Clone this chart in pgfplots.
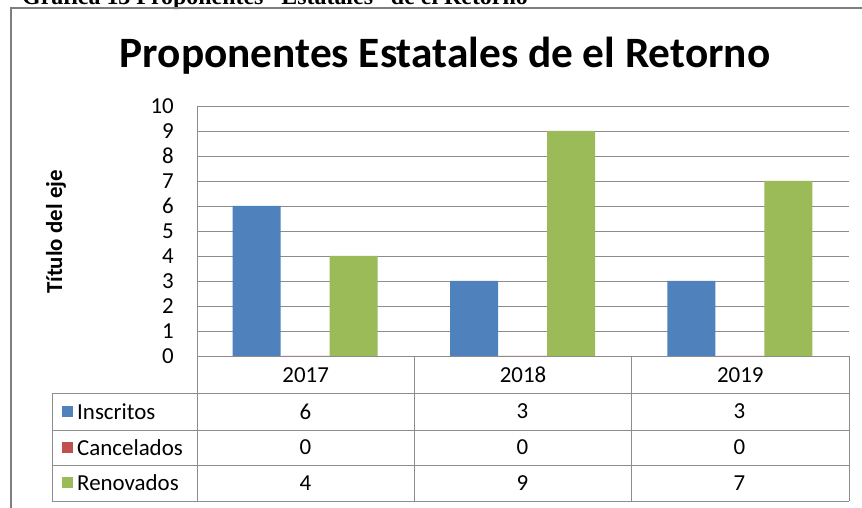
\documentclass[border=0pt]{standalone}
\usepackage{pgfplots}
\pgfplotsset{compat=1.18}
\usepackage{fontspec}
\setmainfont{Carlito}
\newfontfamily\tnr{Liberation Serif}
\definecolor{cblue}{HTML}{4F81BD}
\definecolor{cred}{HTML}{C0504D}
\definecolor{cgreen}{HTML}{9BBB59}
\definecolor{gridc}{HTML}{8C8C8C}
\definecolor{framec}{HTML}{7F7F7F}
\begin{document}
\begin{tikzpicture}[x=1bp,y=1bp]
\useasboundingbox (0,0) rectangle (862,508);
\fill[white] (0,0) rectangle (862,508);
\node[anchor=base west, inner sep=0, font=\tnr\bfseries\fontsize{24}{28}\selectfont] at (22,503.5) {Gráfica 13 Proponentes “Estatales” de el Retorno};
\draw[framec, line width=2bp] (11,-5) -- (11,500) -- (870,500);
\node[anchor=base, inner sep=0, font=\bfseries\fontsize{43.5}{50}\selectfont] at (445,440) {Proponentes Estatales de el Retorno};
\node[rotate=90, inner sep=0, font=\bfseries\fontsize{23}{27}\selectfont] at (56,276) {Título del eje};
\begin{axis}[
  at={(197bp,152bp)}, anchor=south west,
  width=652bp, height=250bp, scale only axis,
  xmin=-0.5, xmax=2.5, ymin=0, ymax=10,
  ybar, bar width=48bp,
  ytick={0,1,...,10},
  xtick={0,1,2}, xticklabels={2017,2018,2019},
  ymajorgrids, grid style={gridc, line width=0.8bp},
  major tick length=0pt,
  axis line style={draw=none},
  tick label style={font=\fontsize{23}{27}\selectfont},
  /pgf/number format/assume math mode=true,
  yticklabel style={anchor=east, inner sep=0pt, xshift=-23bp},
  xticklabel style={anchor=center, inner sep=0pt, yshift=-19bp},
]
\addplot[fill=cblue, draw=none, bar shift=-49bp] coordinates {(0,6) (1,3) (2,3)};
\addplot[fill=cred, draw=none, bar shift=0bp] coordinates {(0,0) (1,0) (2,0)};
\addplot[fill=cgreen, draw=none, bar shift=48bp] coordinates {(0,4) (1,9) (2,7)};
\end{axis}
\begin{scope}[gridc, line width=0.8bp]
\draw (197,402) -- (197,7);
\draw (414,152) -- (414,7);
\draw (631,152) -- (631,7);
\draw (849,152) -- (849,7);
\draw (52,115) -- (52,7);
\draw (52,115) -- (849,115);
\draw (52,78) -- (849,78);
\draw (52,43) -- (849,43);
\draw (52,7) -- (849,7);
\end{scope}
\fill[cblue] (62,91) rectangle (73,102);
\fill[cred] (62,55) rectangle (73,66);
\fill[cgreen] (62,19.5) rectangle (73,30.5);
\begin{scope}[every node/.style={inner sep=0, font=\fontsize{23}{27}\selectfont}]
\node[anchor=west] at (77,96.5) {Inscritos};
\node[anchor=west] at (77,60.5) {Cancelados};
\node[anchor=west] at (77,25) {Renovados};
\node at (305.5,96.5) {6}; \node at (522.5,96.5) {3}; \node at (739.5,96.5) {3};
\node at (305.5,60.5) {0}; \node at (522.5,60.5) {0}; \node at (739.5,60.5) {0};
\node at (305.5,25) {4}; \node at (522.5,25) {9}; \node at (739.5,25) {7};
\end{scope}
\end{tikzpicture}
\end{document}
